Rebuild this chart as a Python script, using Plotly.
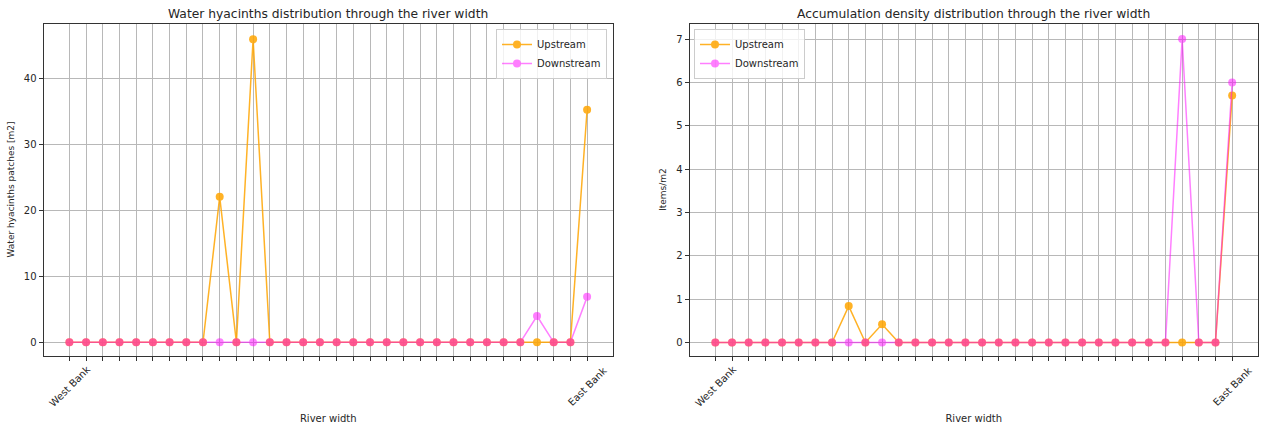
import plotly.graph_objects as go

positions = list(range(32))
tick_labels = ["West Bank"] + [""] * 30 + ["East Bank"]

hyacinth_upstream = [0, 0, 0, 0, 0, 0, 0, 0, 0, 22.1, 0, 46.0, 0, 0, 0, 0,
                     0, 0, 0, 0, 0, 0, 0, 0, 0, 0, 0, 0, 0, 0, 0, 35.3]
hyacinth_downstream = [0, 0, 0, 0, 0, 0, 0, 0, 0, 0, 0, 0, 0, 0, 0, 0,
                       0, 0, 0, 0, 0, 0, 0, 0, 0, 0, 0, 0, 4.0, 0, 0, 6.9]
density_upstream = [0, 0, 0, 0, 0, 0, 0, 0, 0.84, 0, 0.42, 0, 0, 0, 0, 0,
                    0, 0, 0, 0, 0, 0, 0, 0, 0, 0, 0, 0, 0, 0, 0, 5.7]
density_downstream = [0, 0, 0, 0, 0, 0, 0, 0, 0, 0, 0, 0, 0, 0, 0, 0,
                      0, 0, 0, 0, 0, 0, 0, 0, 0, 0, 0, 0, 7.0, 0, 0, 6.0]

FONT = "DejaVu Sans"
TXT = "#262626"
UP_COLOR = "rgb(255,165,0)"
DOWN_COLOR = "rgb(255,0,255)"
W, H = 1266, 428

fig = go.Figure()

def add_pair(up, down, xa, ya, legend):
    fig.add_trace(go.Scatter(x=positions, y=up, name="Upstream", mode="lines+markers",
                             line=dict(color=UP_COLOR, width=1.5),
                             marker=dict(color=UP_COLOR, size=8),
                             opacity=0.85, xaxis=xa, yaxis=ya, legend=legend))
    fig.add_trace(go.Scatter(x=positions, y=down, name="Downstream", mode="lines+markers",
                             line=dict(color=DOWN_COLOR, width=1.5),
                             marker=dict(color=DOWN_COLOR, size=8),
                             opacity=0.5, xaxis=xa, yaxis=ya, legend=legend))

add_pair(hyacinth_upstream, hyacinth_downstream, "x", "y", "legend")
add_pair(density_upstream, density_downstream, "x2", "y2", "legend2")

xcommon = dict(range=[-1.55, 32.55], tickmode="array", tickvals=positions,
               ticktext=[""] * len(positions), ticks="outside", ticklen=4, tickwidth=1,
               tickcolor="#333", showgrid=True, gridcolor="#b8b8b8", gridwidth=1,
               showline=True, linecolor="#333", linewidth=1, mirror=True,
               zeroline=False, automargin=False,
               title=dict(text="River width", font=dict(family=FONT, size=10, color=TXT), standoff=53))
ycommon = dict(ticks="outside", ticklen=4, tickwidth=1, tickcolor="#333",
               showgrid=True, gridcolor="#b8b8b8", gridwidth=1,
               showline=True, linecolor="#333", linewidth=1, mirror=True,
               zeroline=False, automargin=False,
               tickfont=dict(family=FONT, size=10, color=TXT))

ydom = [1 - 355.5 / H, 1 - 23.5 / H]

fig.update_layout(
    width=W, height=H,
    margin=dict(l=0, r=0, t=0, b=0),
    paper_bgcolor="white", plot_bgcolor="white",
    font=dict(family=FONT, size=10, color=TXT),
    xaxis=dict(domain=[43.5 / W, 613 / W], anchor="y", **xcommon),
    yaxis=dict(domain=ydom, anchor="x", range=[-2.0, 48.4],
               tickvals=[0, 10, 20, 30, 40],
               title=dict(text="Water hyacinths patches [m2]",
                          font=dict(family=FONT, size=9, color=TXT), standoff=7),
               **ycommon),
    xaxis2=dict(domain=[689.5 / W, 1258 / W], anchor="y2", **xcommon),
    yaxis2=dict(domain=ydom, anchor="x2", range=[-0.3, 7.36],
                tickvals=[0, 1, 2, 3, 4, 5, 6, 7],
                title=dict(text="Items/m2", font=dict(family=FONT, size=9, color=TXT), standoff=7),
                **ycommon),
    legend=dict(x=607 / W, y=1 - 29 / H, xanchor="right", yanchor="top",
                bgcolor="rgba(255,255,255,0.8)", bordercolor="#cccccc", borderwidth=1,
                font=dict(family=FONT, size=10, color=TXT), tracegroupgap=0,
                itemwidth=30),
    legend2=dict(x=694 / W, y=1 - 29 / H, xanchor="left", yanchor="top",
                 bgcolor="rgba(255,255,255,0.8)", bordercolor="#cccccc", borderwidth=1,
                 font=dict(family=FONT, size=10, color=TXT), tracegroupgap=0,
                 itemwidth=30),
    showlegend=True,
)

titles = ["Water hyacinths distribution through the river width",
          "Accumulation density distribution through the river width"]
for i, t in enumerate(titles):
    xref = "x domain" if i == 0 else "x2 domain"
    fig.add_annotation(text=t, xref=xref, yref="paper", x=0.5, y=1 - 14 / H,
                       showarrow=False, xanchor="center", yanchor="middle",
                       font=dict(family=FONT, size=12.3, color=TXT))

# rotated bank labels centred on their ticks (matplotlib style)
for xr in ["x", "x2"]:
    for p, lab in zip(positions, tick_labels):
        if lab:
            fig.add_annotation(text=lab, xref=xr, yref="paper", x=p, y=1 - 386 / H,
                               showarrow=False, textangle=-45, xanchor="center",
                               yanchor="middle",
                               font=dict(family=FONT, size=10, color=TXT))

fig.write_html("out.html",
               config={"displayModeBar": False},
               post_script="document.body.style.margin='0px';document.body.style.padding='0px';")
